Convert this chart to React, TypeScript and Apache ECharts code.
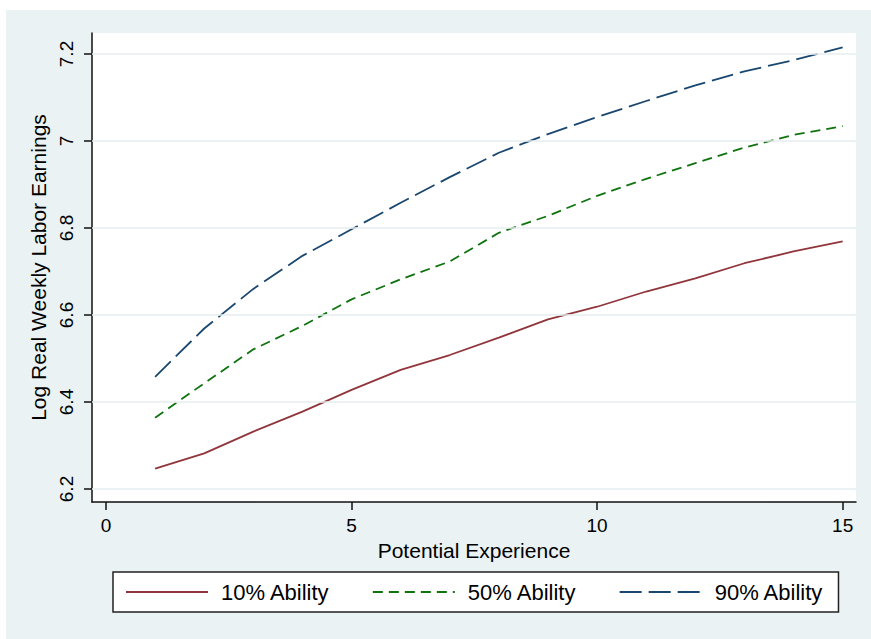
import React, { useEffect, useRef } from "react";
import * as echarts from "echarts";

const experience = [1, 2, 3, 4, 5, 6, 7, 8, 9, 10, 11, 12, 13, 14, 15];
const ability10 = [6.247, 6.282, 6.332, 6.378, 6.428, 6.474, 6.508, 6.548, 6.59, 6.619, 6.654, 6.684, 6.719, 6.746, 6.769];
const ability50 = [6.364, 6.443, 6.521, 6.575, 6.636, 6.682, 6.723, 6.789, 6.828, 6.874, 6.913, 6.949, 6.985, 7.014, 7.034];
const ability90 = [6.458, 6.569, 6.66, 6.736, 6.797, 6.858, 6.917, 6.973, 7.016, 7.055, 7.092, 7.128, 7.16, 7.186, 7.215];
const yTicks = [6.2, 6.4, 6.6, 6.8, 7, 7.2];
const xTicks = [0, 5, 10, 15];
const seriesNames = ["10% Ability", "50% Ability", "90% Ability"];

const FONT = "'Liberation Sans', Arial, Helvetica, sans-serif";

export default function App() {
  const ref = useRef<HTMLDivElement>(null);
  useEffect(() => {
    if (!ref.current) return;
    const chart = echarts.init(ref.current, null, { renderer: "svg" });
    const pair = (ys: number[]) => experience.map((x, i) => [x, ys[i]]);
    chart.setOption({
      animation: false,
      textStyle: { fontFamily: FONT },
      grid: {
        left: 92,
        right: 15,
        top: 33,
        bottom: 137,
        show: true,
        backgroundColor: "#ffffff",
        borderWidth: 0,
        containLabel: false,
        outerBoundsMode: "none",
      },
      xAxis: {
        type: "value",
        min: -0.285,
        max: 15.272,
        name: "Potential Experience",
        nameLocation: "middle",
        nameGap: 38,
        nameTextStyle: { fontSize: 21, color: "#000", fontFamily: FONT },
        axisLine: { show: true, onZero: false, lineStyle: { color: "#111", width: 1.5 } },
        axisTick: { show: true, length: 8, customValues: xTicks, lineStyle: { color: "#111", width: 1.5 } },
        axisLabel: { customValues: xTicks, fontSize: 19, color: "#000", margin: 14, fontFamily: FONT },
        splitLine: { show: false },
      },
      yAxis: {
        type: "value",
        min: 6.1701,
        max: 7.2483,
        name: "Log Real Weekly Labor Earnings",
        nameLocation: "middle",
        nameGap: 37,
        nameRotate: 90,
        nameTextStyle: { fontSize: 21, color: "#000", fontFamily: FONT },
        axisLine: { show: true, onZero: false, lineStyle: { color: "#111", width: 1.5 } },
        axisTick: { show: true, length: 8, customValues: yTicks, lineStyle: { color: "#111", width: 1.5 } },
        axisLabel: {
          customValues: yTicks,
          rotate: 90,
          fontSize: 19,
          color: "#000",
          margin: 16,
          fontFamily: FONT,
          formatter: (v: number) => String(Math.round(v * 10) / 10),
        },
        splitLine: { show: false },
      },
      legend: {
        data: seriesNames,
        left: 113,
        top: 572,
        padding: [9, 15, 9, 12],
        itemGap: 42,
        itemWidth: 82,
        itemHeight: 12,
        itemStyle: { opacity: 0 },
        backgroundColor: "#ffffff",
        borderColor: "#222",
        borderWidth: 1.5,
        borderRadius: 0,
        textStyle: { fontSize: 22, color: "#000", fontFamily: FONT, padding: [0, 0, 0, 8] },
      },
      series: [
        {
          name: "grid",
          type: "line",
          data: [],
          silent: true,
          markLine: {
            silent: true,
            symbol: ["none", "none"],
            label: { show: false },
            lineStyle: { color: "#E6EEF1", width: 1.5, type: "solid" },
            data: yTicks.map((v) => ({ yAxis: v })),
          },
        },
        {
          name: seriesNames[0],
          type: "line",
          data: pair(ability10),
          symbol: "none",
          color: "#90353B",
          lineStyle: { color: "#90353B", width: 1.8, type: "solid" },
        },
        {
          name: seriesNames[1],
          type: "line",
          data: pair(ability50),
          symbol: "none",
          color: "#0F730F",
          lineStyle: { color: "#0F730F", width: 1.8, type: [10, 6] },
        },
        {
          name: seriesNames[2],
          type: "line",
          data: pair(ability90),
          symbol: "none",
          color: "#1A476F",
          lineStyle: { color: "#1A476F", width: 1.8, type: [22, 7] },
        },
      ],
    });
    return () => chart.dispose();
  }, []);
  return (
    <div style={{ position: "absolute", left: 0, top: 0, width: 871, height: 639, background: "#ffffff" }}>
      <div style={{ position: "absolute", left: 6, top: 10, width: 865, height: 629, background: "#EAF2F3" }} />
      <div ref={ref} style={{ position: "absolute", left: 0, top: 0, width: 871, height: 639 }} />
    </div>
  );
}
